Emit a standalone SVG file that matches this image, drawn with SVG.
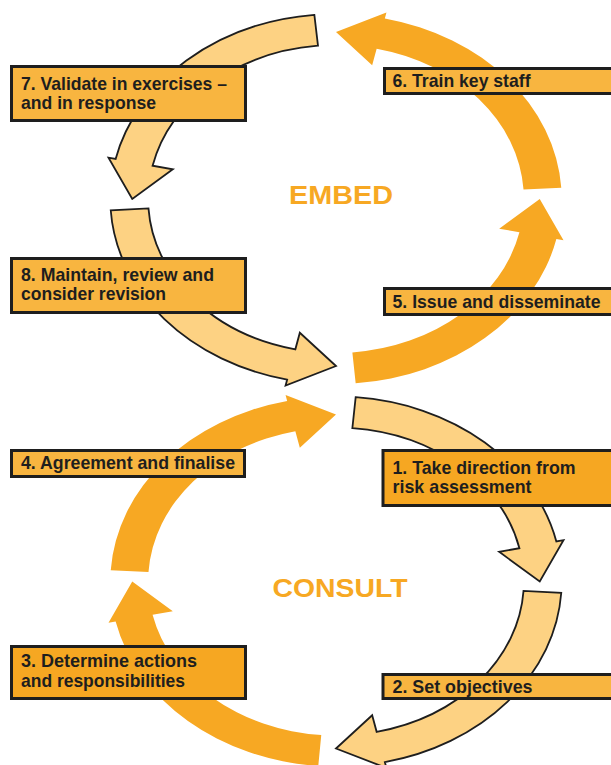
<svg xmlns="http://www.w3.org/2000/svg" width="611" height="765" viewBox="0 0 611 765">
<style>
.dark{fill:#F7A823}
.light{fill:#FDD283;stroke:#1e1e1e;stroke-width:1.8;stroke-linejoin:miter}
.box{fill:#F8B540;stroke:#1e1e1e;stroke-width:3}
.box.d{fill:#F6A722}
.lbl{font-family:"Liberation Sans",Arial,sans-serif;font-weight:bold;font-size:19px;fill:#1e1e1e}
.title{font-family:"Liberation Sans",Arial,sans-serif;font-weight:bold;fill:#F7A823}
</style>
<rect width="611" height="765" fill="#ffffff"/>
<g id="connectors">
  <!-- top loop (EMBED) -->
  <path id="arrow-5" class="dark" d="M355.67,383.30 A225.7,185 0 0 0 556.36,239.04 L563.49,240.34 L539.74,199 L499.18,228.65 L519.43,232.33 A187.88,154 0 0 1 352.37,352.41 Z"/>
  <path id="arrow-6" class="dark" d="M561.27,187.71 A225.7,185 0 0 0 384.85,18.38 L386.43,12.53 L336,32 L372.17,65.25 L376.66,48.65 A187.88,154 0 0 1 523.53,189.60 Z"/>
  <path id="arrow-7" class="light" d="M314.37,14.85 A225.7,185 0 0 0 115.64,158.96 L108.51,157.66 L132.26,199 L172.82,169.35 L152.57,165.67 A187.88,154 0 0 1 317.99,45.71 Z"/>
  <path id="arrow-8" class="light" d="M110.73,210.29 A225.7,185 0 0 0 287.15,379.62 L285.57,385.47 L336,366 L299.83,332.75 L295.34,349.35 A187.88,154 0 0 1 148.47,208.40 Z"/>
  <!-- bottom loop (CONSULT) -->
  <path id="arrow-1" class="light" d="M355.67,397.20 A225.7,185 0 0 1 556.36,541.46 L563.49,540.16 L539.74,581.5 L499.18,551.85 L519.43,548.17 A187.88,154 0 0 0 352.37,428.09 Z"/>
  <path id="arrow-2" class="light" d="M561.27,592.79 A225.7,185 0 0 1 384.85,762.12 L386.43,767.97 L336,748.5 L372.17,715.25 L376.66,731.85 A187.88,154 0 0 0 523.53,590.90 Z"/>
  <path id="arrow-3" class="dark" d="M318.29,765.93 A225.7,185 0 0 1 115.64,621.54 L108.51,622.84 L132.26,581.5 L172.82,611.15 L152.57,614.83 A187.88,154 0 0 0 321.26,735.03 Z"/>
  <path id="arrow-4" class="dark" d="M110.73,570.21 A225.7,185 0 0 1 287.15,400.88 L285.57,395.03 L336,414.5 L299.83,447.75 L295.34,431.15 A187.88,154 0 0 0 148.47,572.10 Z"/>
</g>
<g id="title-embed">
  <text class="title" x="289" y="204" font-size="26" textLength="104" lengthAdjust="spacingAndGlyphs">EMBED</text>
</g>
<g id="title-consult">
  <text class="title" x="272.5" y="597" font-size="25" textLength="135" lengthAdjust="spacingAndGlyphs">CONSULT</text>
</g>
<g id="node-7">
  <rect class="box" x="11.5" y="66.5" width="234" height="54"/>
  <text class="lbl" x="21" y="89.5" textLength="206" lengthAdjust="spacingAndGlyphs">7. Validate in exercises –</text>
  <text class="lbl" x="21" y="108.5" textLength="135" lengthAdjust="spacingAndGlyphs">and in response</text>
</g>
<g id="node-6">
  <rect class="box" x="384.5" y="68.5" width="240" height="25"/>
  <text class="lbl" x="392.5" y="87" textLength="138" lengthAdjust="spacingAndGlyphs">6. Train key staff</text>
</g>
<g id="node-8">
  <rect class="box" x="11.5" y="258.5" width="234" height="54"/>
  <text class="lbl" x="21" y="281" textLength="193" lengthAdjust="spacingAndGlyphs">8. Maintain, review and</text>
  <text class="lbl" x="21" y="300" textLength="145" lengthAdjust="spacingAndGlyphs">consider revision</text>
</g>
<g id="node-5">
  <rect class="box" x="384.5" y="288.5" width="240" height="26"/>
  <text class="lbl" x="392.5" y="308.3" textLength="208" lengthAdjust="spacingAndGlyphs">5. Issue and disseminate</text>
</g>
<g id="node-4">
  <rect class="box" x="11.5" y="450.5" width="233" height="26"/>
  <text class="lbl" x="21" y="469.3" textLength="214" lengthAdjust="spacingAndGlyphs">4. Agreement and finalise</text>
</g>
<g id="node-1">
  <rect class="box d" x="383" y="450.5" width="240" height="55"/>
  <text class="lbl" x="392.5" y="474.3" textLength="183" lengthAdjust="spacingAndGlyphs">1. Take direction from</text>
  <text class="lbl" x="392.5" y="493.3" textLength="139" lengthAdjust="spacingAndGlyphs">risk assessment</text>
</g>
<g id="node-3">
  <rect class="box d" x="11.5" y="646.5" width="234" height="52"/>
  <text class="lbl" x="21" y="667.3" textLength="176" lengthAdjust="spacingAndGlyphs">3. Determine actions</text>
  <text class="lbl" x="21" y="686.7" textLength="164" lengthAdjust="spacingAndGlyphs">and responsibilities</text>
</g>
<g id="node-2">
  <rect class="box" x="383" y="674.5" width="240" height="24"/>
  <text class="lbl" x="392.5" y="693.3" textLength="140" lengthAdjust="spacingAndGlyphs">2. Set objectives</text>
</g>
</svg>
